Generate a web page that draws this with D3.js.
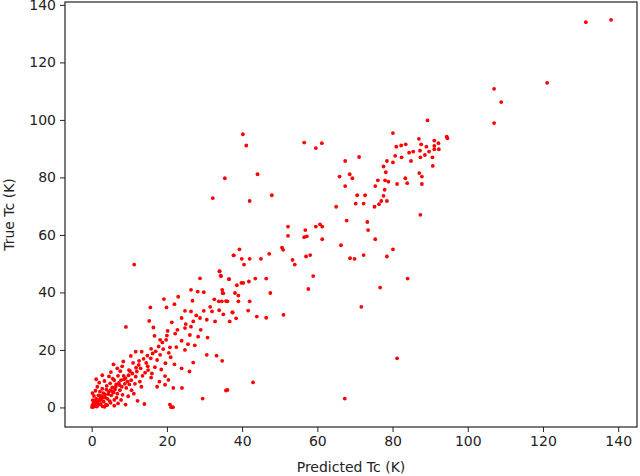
<!DOCTYPE html>
<html><head><meta charset="utf-8">
<script src="https://cdn.jsdelivr.net/npm/d3@7"></script>
<style>body{margin:0;background:#fff}</style></head>
<body><svg id="c" width="640" height="476"></svg>
<script>
const xTicks=[0,20,40,60,80,100,120,140];
const yTicks=[0,20,40,60,80,100,120,140];
const xLabel="Predicted Tc (K)";
const yLabel="True Tc (K)";
// [predicted, true]
const points=[
[131.4,134.0],[138.1,134.8],[121.1,112.9],[107,110.8],[108.9,106.2],[107,98.9],
[40.2,95.0],[41.1,91.1],[35.4,79.7],[44.1,81.1],[47.9,73.8],[42.0,71.8],[32.2,72.8],
[56.5,92.1],[59.6,90.2],[61.2,91.9],[80.1,95.4],[89.3,99.8],[67.4,85.7],[71.1,87.1],
[65.9,80.3],[68.6,81.1],[69.3,79.7],[67.4,77.0],[65.0,69.8],[70.6,73.8],[72.7,73.8],
[70.2,70.9],[72.3,70.9],[75.2,69.8],[76.4,70.7],[77.0,71.8],[78.5,71.8],[77.6,73.6],
[77.9,75.7],[75.4,77.0],[76.1,79.0],[78.0,79.0],[78.9,78.5],[78.2,81.8],[77.6,83.8],
[78.5,85.7],[80.1,85.2],[80.7,87.5],[82.4,87.0],[81.0,90.7],[82.3,91.1],[83.5,91.5],
[84.4,88.6],[85.5,89.0],[84.9,85.7],[87.0,93.4],[87.6,91.5],[87.3,89.3],[87.4,87.0],
[89.0,90.7],[89.7,89.0],[91.1,92.8],[91.1,91.0],[92.2,91.9],[91.1,89.8],[92.3,89.8],
[90.6,87.0],[90.7,84.0],[88.6,87.8],[94.4,94.2],[94.6,93.6],[83.4,79.7],[83.9,78.0],
[81.2,77.7],[87.1,81.5],[87.8,80.3],[87.8,77.7],[87.4,67.0],[67.8,65.0],[73.3,64.5],
[75.4,58.5],[66.3,56.4],[80.1,55.0],[78.5,52.5],[72.3,53.0],[69.9,51.7],[68.7,51.9],
[84.0,44.8],[76.7,41.7],[71.7,35.0],[81.2,17.1],[67.3,3.1],[73.5,61.7],
[52.2,62.9],[52.2,59.7],[56.8,61.7],[56.5,59.2],[57.2,59.5],[59.6,62.9],[60.7,63.7],
[61.3,62.9],[61.3,58.5],[50.6,55.6],[50.9,54.8],[47.2,53.4],[39.3,55.0],[37.8,52.9],
[39.9,51.7],[42.0,51.7],[45.0,51.7],[40.5,49.7],[53.4,51.3],[54.0,49.7],[57.0,52.5],
[58.1,53.0],[58.9,45.7],[57.6,41.2],[46.4,44.8],[43.5,44.8],[41.8,43.8],[40.3,43.3],
[39.8,43.3],[38.6,42.5],[36.5,44.6],[34.4,45.7],[34.0,47.3],[47.5,39.8],[38.1,39.8],
[39.0,38.9],[34.8,39.8],[34.6,36.9],[36.1,36.9],[39.0,36.9],[42.0,36.9],[41.6,33.7],
[37.5,33.0],[35.0,32.4],[43.9,31.6],[46.4,31.2],[51.0,32.2],[38.4,31.0],
[42.9,8.7],[35.7,5.9],[29.5,3.1],[20.8,1.0],[21.6,0.1],[21.1,0.1],
[11.3,49.7],[28.8,44.9],[34.0,47.4],[34.3,45.8],[36.5,44.6],[37.7,52.9],[26.4,40.9],
[28.2,40.3],[29.8,40.1],[34.7,40.9],[35.0,39.7],[19.2,37.7],[22.0,35.9],[19.9,34.8],
[15.6,34.8],[26.8,37.1],[32.6,37.6],[33.8,36.9],[35.7,37.0],[24.8,33.6],[26.4,33.4],
[29.8,33.6],[32.0,33.4],[33.9,33.8],[37.4,33.1],[15.3,30.1],[21.3,29.6],[23.9,31.1],
[27.0,29.9],[28.8,31.1],[30.6,30.5],[32.8,29.9],[36.7,29.9],[9.1,28.0],[20.2,26.6],
[22.2,25.7],[24.8,27.6],[26.4,28.1],[26.1,25.2],[28.3,24.6],[30.8,24.3],[16.7,24.9],
[18.2,23.5],[20.8,20.9],[23.9,23.2],[24.8,20.0],[27.4,21.6],[30.6,18.3],[33.2,18.0],
[34.7,16.2],[27.0,15.6],[23.9,13.6],[19.0,20.3],[18.2,18.3],[19.6,15.4],[13.3,19.4],
[11.7,19.4],[10.4,17.9],[15.7,17.1],[17.4,16.5],[14.9,14.3],[19.5,10.9],[20.4,9.6],
[21.7,6.8],[24.0,6.8],[17.4,7.2],[19.5,7.9],[15.8,10.4],[13.0,13.6],[11.7,10.7],
[9.9,13.0],[8.1,14.3],[9.0,10.2],[5.1,12.3],[3.4,9.2],[14.0,1.2],[12.2,2.3],[36.1,6.1],
[10.6,6.0],[9.7,3.9],[14.5,15.5],[16.2,18.8],[17.8,21.2],[12.5,14.8],[13.8,16.9],
[15.0,13.0],[16.8,14.0],[18.5,13.2],[21.0,17.5],[22.5,21.0],[19.8,23.5],[20.5,19.0],
[17.0,19.5],[14.2,12.1],[12.0,12.5],[10.8,11.8],[11.0,15.5],[9.5,9.0],[8.5,11.0],
[7.8,9.5],[7.2,8.5],[6.5,8.0],[6.0,9.5],[5.5,7.0],[5.0,6.0],[4.5,5.5],[4.0,7.5],
[3.5,4.5],[3.0,3.5],[2.5,4.0],[2.0,2.5],[1.5,1.5],[1.0,0.5],[0.5,0.2],[0.2,0.8],
[0.8,1.8],[1.2,3.0],[1.8,4.2],[2.2,5.5],[2.8,6.5],[3.2,2.0],[3.8,1.0],[4.2,3.0],
[4.8,2.2],[5.2,4.2],[5.8,5.2],[6.2,6.2],[6.8,4.8],[7.5,6.0],[8.0,7.2],[8.8,8.2],
[9.2,6.8],[10.0,8.0],[10.5,9.5],[11.5,8.2],[12.8,9.0],[13.5,11.0],[0.3,2.5],[0.6,4.0],
[1.0,5.8],[1.5,7.2],[2.0,8.6],[2.4,1.2],[2.9,0.4],[3.4,0.2],[4.1,0.8],[5.0,1.6],
[6.0,2.6],[6.6,3.4],[7.0,1.4],[8.2,4.4],[0.1,0.1],[0.4,1.2],[0.9,2.2],[1.4,0.3],
[1.9,1.0],[2.6,2.6],[3.6,3.4],[4.4,4.6],[5.4,5.6],[6.4,7.2],[7.4,7.8],[8.6,9.8],
[9.8,11.2],[10.2,12.6],[1.2,9.8],[0.2,5.0],[16.0,11.8],[18.0,9.0],[13.2,7.2],
[11.2,4.8],[7.8,2.6],[6.0,0.6],[9.0,1.0],[4.6,10.8],[2.8,11.2],[6.8,13.6],[8.4,16.0],
[5.8,15.0],[0.6,0.6],[1.6,2.0],[2.3,3.2],[3.1,5.0],[3.9,6.2],[4.9,8.4],[5.6,10.0],
[7.0,11.0],[7.6,12.6],[11.8,13.8],[12.6,16.2],[14.8,18.0],[15.8,20.4],[18.8,22.6],
[20.0,25.0],[22.8,27.0],[25.0,29.0],[27.8,32.0],[29.0,27.0],[31.5,35.0],[16.4,27.8],
[23.0,38.5],[25.6,22.0],[22.0,15.0],[26.0,12.5]
];
const W=640,H=476,L=65,R=637,T=2,B=427;
const x=d3.scaleLinear().domain([-7.1,145.0]).range([L,R]);
const y=d3.scaleLinear().domain([-6.8,141.0]).range([B,T]);
const svg=d3.select("#c");
svg.append("g").selectAll("circle").data(points).join("circle")
 .attr("cx",d=>x(d[0])).attr("cy",d=>y(d[1])).attr("r",1.9).attr("fill","#ff0000");
const font="DejaVu Sans";
const gx=svg.append("g").attr("transform",`translate(0,${B})`)
 .call(d3.axisBottom(x).tickValues(xTicks).tickSize(5).tickPadding(4).tickSizeOuter(0));
const gy=svg.append("g").attr("transform",`translate(${L},0)`)
 .call(d3.axisLeft(y).tickValues(yTicks).tickSize(5).tickPadding(4).tickSizeOuter(0));
[gx,gy].forEach(g=>{g.select(".domain").remove();g.selectAll("text").attr("font-family",font).attr("font-size",14).attr("fill","#222");g.selectAll("line").attr("stroke","#222");});
svg.append("rect").attr("x",L).attr("y",T).attr("width",R-L).attr("height",B-T).attr("fill","none").attr("stroke","#222").attr("stroke-width",1.2);
svg.append("text").attr("x",(L+R)/2).attr("y",472).attr("text-anchor","middle").attr("font-family",font).attr("font-size",14).attr("fill","#222").text(xLabel);
svg.append("text").attr("transform",`translate(14,${(T+B)/2}) rotate(-90)`).attr("text-anchor","middle").attr("font-family",font).attr("font-size",14).attr("fill","#222").text(yLabel);
</script></body></html>
